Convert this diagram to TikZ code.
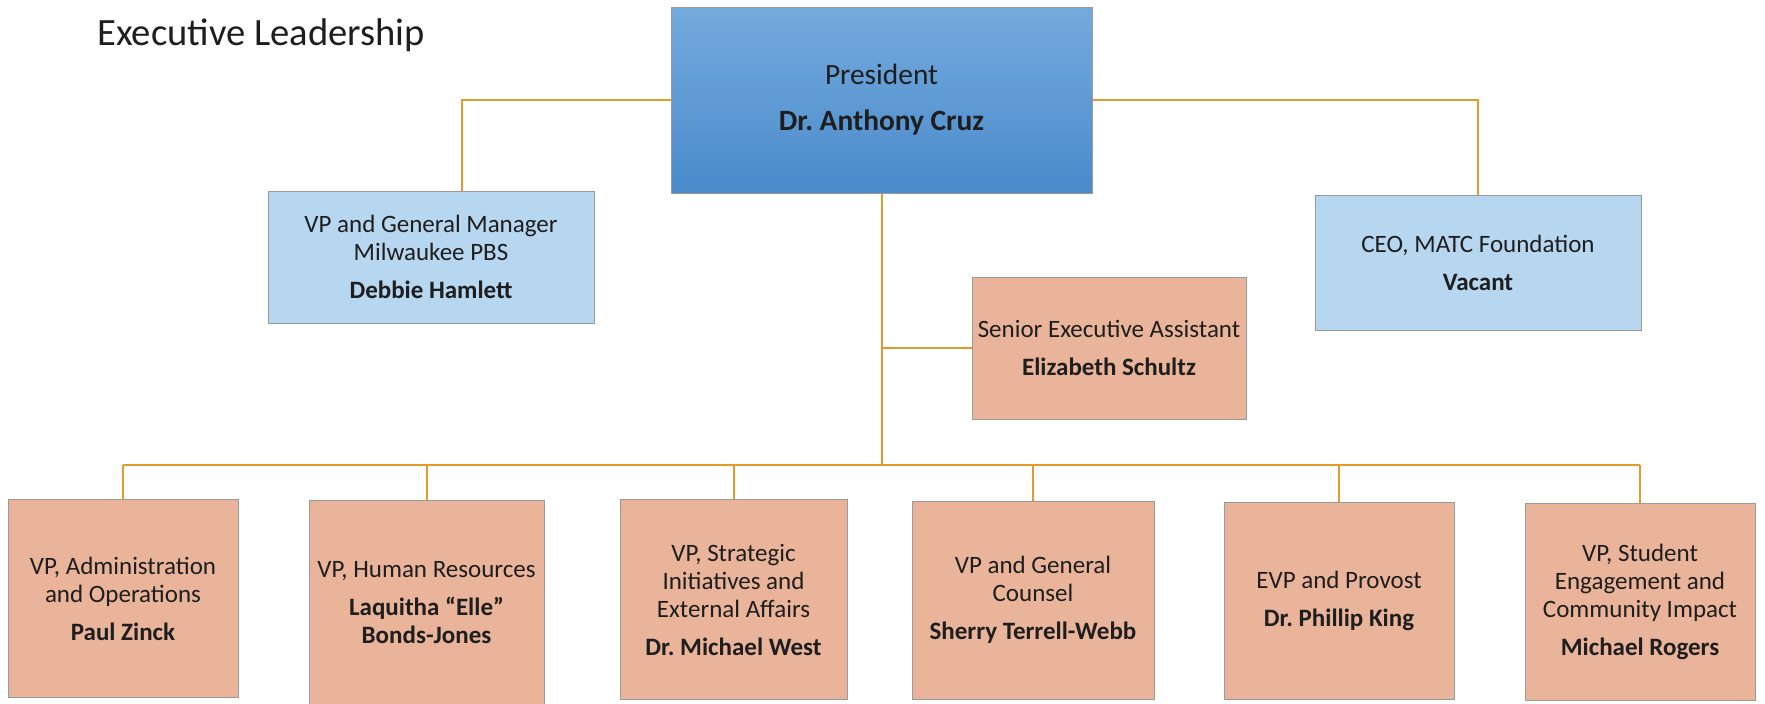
\documentclass[tikz,border=0pt]{standalone}
\usepackage{fontspec}
\setmainfont{Carlito}
\frenchspacing
\definecolor{conn}{HTML}{E39B2E}
\definecolor{salmonc}{HTML}{E9B49A}
\definecolor{lbluec}{HTML}{B7D6EF}
\definecolor{prestop}{HTML}{74ABDD}
\definecolor{presbot}{HTML}{4A8ACB}
\definecolor{txt}{HTML}{1E1E1E}
\definecolor{edge}{HTML}{9A9A9A}
\begin{document}
\begin{tikzpicture}[x=0.5pt,y=-0.5pt,
  box/.style={draw=edge, line width=0.5pt, inner sep=0pt, align=center, text=txt,
    font=\fontsize{12.5}{14}\selectfont},
  salmon/.style={box, fill=salmonc},
  lblue/.style={box, fill=lbluec},
  link/.style={draw=conn, line width=1pt}]
\useasboundingbox (0,0) rectangle (1765,703);
\fill[white] (0,0) rectangle (1765,703);

\node[anchor=base west, inner sep=0pt, text=txt, font=\fontsize{19.3}{22}\selectfont] (title) at (97,45) {Executive Leadership};

\node[box, top color=prestop, bottom color=presbot, minimum width=210.5pt, minimum height=93pt,
  font=\fontsize{14.7}{23}\selectfont] (pres) at (881.5,100) {President\\\textbf{Dr. Anthony Cruz}};

\node[lblue, minimum width=163pt, minimum height=66pt] (debbie) at (431,257)
  {VP and General Manager\\Milwaukee PBS\\[5pt]\textbf{Debbie Hamlett}};
\node[lblue, minimum width=163pt, minimum height=67.5pt] (ceo) at (1478,262.5)
  {CEO, MATC Foundation\\[5pt]\textbf{Vacant}};
\node[salmon, minimum width=137pt, minimum height=71pt] (senior) at (1109,348)
  {Senior Executive Assistant\\[5pt]\textbf{Elizabeth Schultz}};

\node[salmon, minimum width=115pt, minimum height=99pt] (b1) at (123,598.5)
  {VP, Administration\\and Operations\\[5pt]\textbf{Paul Zinck}};
\node[salmon, minimum width=117.5pt, minimum height=103pt] (b2) at (426.5,603)
  {VP, Human Resources\\[5pt]\textbf{Laquitha “Elle”}\\\textbf{Bonds-Jones}};
\node[salmon, minimum width=113.5pt, minimum height=100pt] (b3) at (733.5,599.5)
  {VP, Strategic\\Initiatives and\\External Affairs\\[5pt]\textbf{Dr. Michael West}};
\node[salmon, minimum width=121pt, minimum height=99pt] (b4) at (1033,600)
  {VP and General\\Counsel\\[5pt]\textbf{Sherry Terrell-Webb}};
\node[salmon, minimum width=115pt, minimum height=98.5pt] (b5) at (1339,600.5)
  {EVP and Provost\\[5pt]\textbf{Dr. Phillip King}};
\node[salmon, minimum width=115pt, minimum height=98.5pt] (b6) at (1640,601.5)
  {VP, Student\\Engagement and\\Community Impact\\[5pt]\textbf{Michael Rogers}};

\coordinate (dL) at (462,191);
\coordinate (bus) at (881.5,465);

\draw[link] (pres.west) -| (dL);
\draw[link] (pres.east) -| (ceo.north);
\draw[link] (pres.south) -- (bus);
\draw[link] (senior.west) -- (senior.west -| bus);
\draw[link] (b1.north |- bus) -- (b6.north |- bus);
\foreach \b in {b1,b2,b3,b4,b5,b6} {\draw[link] (\b.north) -- (\b.north |- bus);}
\end{tikzpicture}
\end{document}
